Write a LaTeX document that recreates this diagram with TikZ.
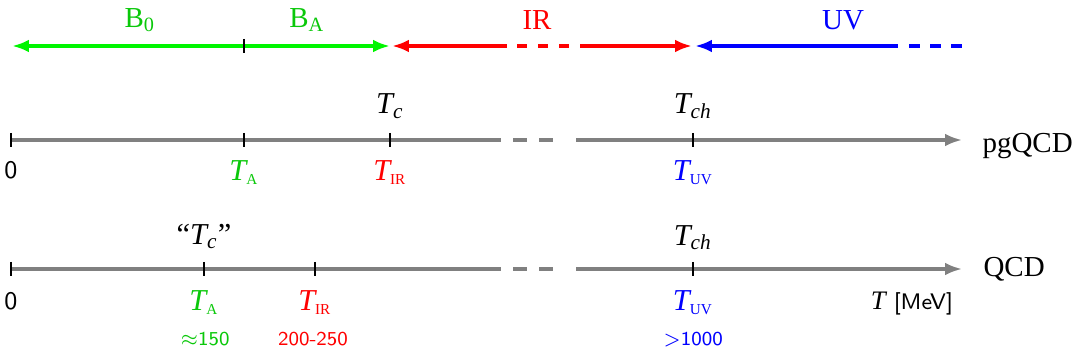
\documentclass[tikz,border=0pt]{standalone}
\usepackage{fontspec}
\setmainfont{Liberation Serif}
\usetikzlibrary{arrows.meta}
\definecolor{linegreen}{RGB}{0,245,0}
\definecolor{textgreen}{RGB}{10,200,10}
\newcommand{\Tsub}[1]{$\mathit{T}_{\scriptscriptstyle\mathrm{#1}}$}
\newcommand{\Tit}[1]{$\mathit{T}_{\mathit{#1}}$}

\begin{document}
\begin{tikzpicture}[x=0.0125cm,y=-0.0125cm,
  rng/.style={line width=1.5pt},
  axis/.style={gray,line width=1.1pt},
  tickmark/.style={black,line width=0.4pt},
  big/.style={font=\fontsize{10.3}{12}\selectfont},
  tlab/.style={font=\fontsize{10.8}{12}\selectfont,anchor=base},
  zero/.style={font=\fontsize{9}{10}\sffamily},
  num/.style={font=\fontsize{7}{8}\sffamily,anchor=base},
  >={Latex[length=6pt,width=4.5pt]}]
  \useasboundingbox (0,0) rectangle (1087,357);

  % ranges on top
  \coordinate (g0) at (12,46);
  \coordinate (gA) at (244,46);
  \coordinate (g1) at (390,46);
  \draw[rng,linegreen,<->] (g0) -- (g1);
  \draw[tickmark] ([yshift=2.5pt]gA) -- ([yshift=-2.5pt]gA);

  \coordinate (r0) at (392,46);
  \coordinate (r1) at (507,46);
  \coordinate (r2) at (517,46);
  \coordinate (r3) at (570,46);
  \coordinate (r4) at (580,46);
  \coordinate (r5) at (692,46);
  \draw[rng,red,<-] (r0) -- (r1);
  \draw[rng,red,dash pattern=on 3.6pt off 3.9pt] (r2) -- (r3);
  \draw[rng,red,->] (r4) -- (r5);

  \coordinate (b0) at (695,46);
  \coordinate (b1) at (898,46);
  \coordinate (b2) at (909,46);
  \coordinate (b3) at (962,46);
  \draw[rng,blue,<-] (b0) -- (b1);
  \draw[rng,blue,dash pattern=on 3.9pt off 3.6pt] (b2) -- (b3);

  \node[big,textgreen] (lB0) at (140,20) {$\mathrm{B}_{\mathrm{0}}$};
  \node[big,textgreen] (lBA) at (307,20) {$\mathrm{B}_{\mathrm{A}}$};
  \node[big,red] (lIR) at (537,20) {IR};
  \node[big,blue] (lUV) at (843,20) {UV};

  % pgQCD axis
  \coordinate (m0) at (11,140);
  \coordinate (mA) at (244,140);
  \coordinate (mIR) at (390,140);
  \coordinate (mUV) at (693,140);
  \coordinate (m1) at (501,140);
  \coordinate (md0) at (513,140);
  \coordinate (md1) at (554,140);
  \coordinate (m2) at (576,140);
  \coordinate (m3) at (962,140);
  \draw[axis] (m0) -- (m1);
  \draw[axis,dash pattern=on 5pt off 4.3pt] (md0) -- (md1);
  \draw[axis,->] (m2) -- (m3);
  \foreach \c in {m0,mA,mIR,mUV}
    \draw[tickmark] ([yshift=2.5pt]\c) -- ([yshift=-2.5pt]\c);

  \node[tlab] (mTc) at (390,114) {\Tit{c}};
  \node[tlab] (mTch) at (693,114) {\Tit{ch}};
  \node[zero] (m0lab) at (11,170) {0};
  \node[tlab,textgreen] (mTA) at (244,180) {\Tsub{A}};
  \node[tlab,red] (mTIR) at (390,180) {\Tsub{IR}};
  \node[tlab,blue] (mTUV) at (693,180) {\Tsub{UV}};
  \node[big,anchor=base west,inner sep=0pt] (pg) at (982,153) {pgQCD};

  % QCD axis
  \coordinate (q0) at (11,269);
  \coordinate (qA) at (204,269);
  \coordinate (qIR) at (315,269);
  \coordinate (qUV) at (693,269);
  \coordinate (q1) at (501,269);
  \coordinate (qd0) at (513,269);
  \coordinate (qd1) at (554,269);
  \coordinate (q2) at (576,269);
  \coordinate (q3) at (962,269);
  \draw[axis] (q0) -- (q1);
  \draw[axis,dash pattern=on 5pt off 4.3pt] (qd0) -- (qd1);
  \draw[axis,->] (q2) -- (q3);
  \foreach \c in {q0,qA,qIR,qUV}
    \draw[tickmark] ([yshift=2.5pt]\c) -- ([yshift=-2.5pt]\c);

  \node[tlab] (qTc) at (204,244) {``\Tit{c}''};
  \node[tlab] (qTch) at (693,245) {\Tit{ch}};
  \node[zero] (q0lab) at (11,301) {0};
  \node[tlab,textgreen] (qTA) at (204,310) {\Tsub{A}};
  \node[tlab,red] (qTIR) at (315,310) {\Tsub{IR}};
  \node[tlab,blue] (qTUV) at (693,310) {\Tsub{UV}};
  \node[num,textgreen] (vA) at (205,345) {$\approx$150};
  \node[num,red] (vIR) at (313,345) {200-250};
  \node[num,blue] (vUV) at (693,345) {$>$1000};
  \node[anchor=base,font=\fontsize{8}{9}\sffamily] (unit) at (912,309)
    {{\fontsize{9.5}{10}\selectfont$\mathit{T}$} [MeV]};
  \node[big,anchor=base west,inner sep=0pt] (qcd) at (983,276) {QCD};
\end{tikzpicture}
\end{document}
